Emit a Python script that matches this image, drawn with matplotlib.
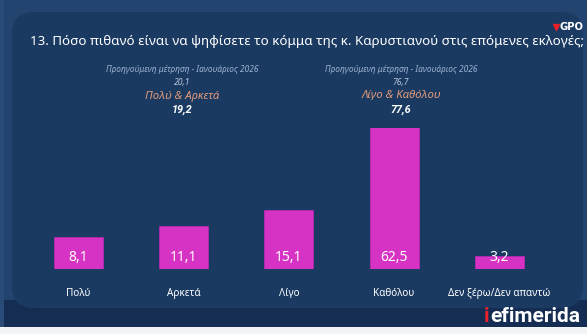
import matplotlib
matplotlib.use("Agg")
import matplotlib.pyplot as plt
from matplotlib.patches import FancyBboxPatch, Rectangle

categories = ["Πολύ", "Αρκετά", "Λίγο", "Καθόλου", "Δεν ξέρω/Δεν απαντώ"]
values = [8.1, 11.1, 15.1, 62.5, 3.2]
value_labels = ["8,1", "11,1", "15,1", "62,5", "3,2"]

title = "13. Πόσο πιθανό είναι να ψηφίσετε το κόμμα της κ. Καρυστιανού στις επόμενες εκλογές;"
prev_label = "Προηγούμενη μέτρηση - Ιανουάριος 2026"
group_names = ["Πολύ & Αρκετά", "Λίγο & Καθόλου"]
group_prev = ["20,1", "76,7"]
group_now = ["19,2", "77,6"]

plt.rcParams['font.family'] = ['Noto Sans', 'DejaVu Sans']

W, H = 587, 334
fig = plt.figure(figsize=(W / 100, H / 100), dpi=100)
fig.patch.set_facecolor("#23436f")

# background panel
bg = fig.add_axes([0, 0, 1, 1])
bg.set_xlim(0, W)
bg.set_ylim(H, 0)
bg.axis("off")
bg.add_patch(Rectangle((0, 0), W, H, facecolor="#23446f", edgecolor="none"))
bg.add_patch(Rectangle((0, 300), W, 27, facecolor="#152d52", edgecolor="none"))
bg.add_patch(FancyBboxPatch((12, 12), 571, 296, boxstyle="round,pad=0,rounding_size=22",
                            facecolor="#1a3a62", edgecolor="none"))
bg.add_patch(Rectangle((0, 327), W, 7, facecolor="#f2f4f7", edgecolor="none"))
bg.add_patch(Rectangle((0, 0), 4, 327, facecolor="#2a4a78", edgecolor="none"))

# GPO logo
bg.plot([556], [26.5], marker="v", color="#e8202a", markersize=5)
bg.text(560, 26.5, "GPO", color="white", fontsize=7.2, fontweight="bold",
        family=["DejaVu Sans"], va="center", ha="left")

# iefimerida logo
bg.text(484, 317, "i", color="#e8202a", fontsize=15, fontweight="bold",
        family=["Roboto", "DejaVu Sans"], va="center", ha="left")
bg.text(490, 317, "efimerida", color="white", fontsize=15, fontweight="bold",
        family=["Roboto", "DejaVu Sans"], va="center", ha="left")

# title
bg.text(307, 41, title, color="white", fontsize=9.6, ha="center", va="center")

# summary blocks
centers_x = [182, 401]
for cx, name, pv, nv in zip(centers_x, group_names, group_prev, group_now):
    bg.text(cx, 70, prev_label, color="#9db2d2", fontsize=6.0, style="italic", ha="center", va="center")
    bg.text(cx, 82, pv, color="#b9c6dc", fontsize=6.2, style="italic", ha="center", va="center")
    bg.text(cx, 96, name, color="#e39a7a", fontsize=8.2, style="italic", ha="center", va="center")
    bg.text(cx, 110, nv, color="white", fontsize=7.8, style="italic", fontweight="bold",
            family=["Roboto", "DejaVu Sans"], ha="center", va="center")

# bar chart
left = 25.9 / W
bottom = (H - 269) / H
width = 525.9 / W
height = (269 - 128) / H
ax = fig.add_axes([left, bottom, width, height])
ax.set_facecolor("none")
x = list(range(len(categories)))
ax.bar(x, values, width=0.466, color="#d633c4", edgecolor="#b428b0", linewidth=0.6)
ax.set_xlim(-0.5, len(categories) - 0.5)
ax.set_ylim(0, 36.0)
for xi, lab in zip(x, value_labels):
    ax.text(xi, 2.9, lab, color="white", fontsize=10, ha="center", va="center")
ax.set_xticks(x)
ax.set_xticklabels(categories, color="white", fontsize=7.2)
ax.tick_params(axis="x", length=0, pad=14)
ax.set_yticks([])
for s in ax.spines.values():
    s.set_visible(False)

fig.savefig("out.png", dpi=100, facecolor=fig.get_facecolor())
